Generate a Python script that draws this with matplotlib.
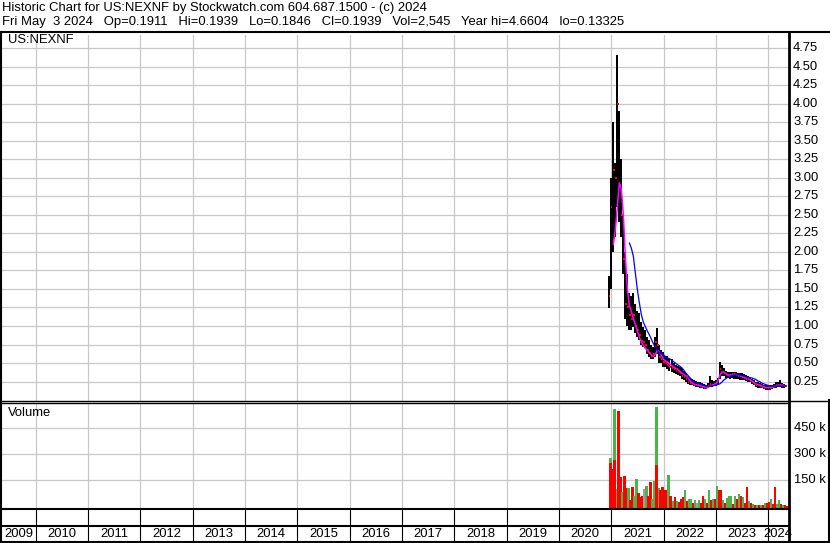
import matplotlib
matplotlib.use("Agg")
import matplotlib.pyplot as plt
from matplotlib.lines import Line2D
from matplotlib.transforms import blended_transform_factory
import numpy as np
import pandas as pd

plt.rcParams['font.family'] = ['Liberation Sans', 'DejaVu Sans']

# bi-weekly bars, Dec 2020 .. May 3 2024
dates = pd.date_range('2020-12-18', '2024-05-03', freq='14D')

high = [1.67, 3.00, 3.75, 3.20, 4.66, 3.90, 3.25, 2.50, 2.00, 1.70,
        1.45, 1.40, 1.45, 1.30, 1.20, 1.17, 1.05, 0.99, 0.95, 0.85,
        0.81, 0.75, 0.72, 0.85, 0.97, 0.75, 0.68, 0.65, 0.60, 0.59,
        0.56, 0.55, 0.50, 0.48, 0.46, 0.45, 0.43, 0.40, 0.36, 0.32,
        0.30, 0.28, 0.27, 0.26, 0.25, 0.24, 0.23, 0.22, 0.21, 0.23,
        0.32, 0.27, 0.26, 0.27, 0.30, 0.52, 0.47, 0.43, 0.40, 0.38,
        0.38, 0.38, 0.38, 0.38, 0.37, 0.36, 0.36, 0.35, 0.34, 0.33,
        0.31, 0.29, 0.27, 0.25, 0.24, 0.23, 0.22, 0.21, 0.20, 0.20,
        0.20, 0.21, 0.22, 0.24, 0.25, 0.27, 0.23, 0.22, 0.21]
low = [1.24, 1.50, 2.00, 2.20, 2.60, 2.40, 2.20, 1.70, 1.10, 1.00,
       0.95, 0.95, 0.99, 0.90, 0.85, 0.81, 0.75, 0.72, 0.70, 0.62,
       0.58, 0.55, 0.55, 0.58, 0.62, 0.50, 0.50, 0.45, 0.45, 0.42,
       0.40, 0.38, 0.36, 0.35, 0.34, 0.32, 0.29, 0.27, 0.25, 0.22,
       0.20, 0.20, 0.19, 0.18, 0.18, 0.17, 0.16, 0.15, 0.15, 0.16,
       0.18, 0.18, 0.19, 0.19, 0.20, 0.28, 0.33, 0.32, 0.30, 0.30,
       0.29, 0.30, 0.29, 0.28, 0.28, 0.27, 0.27, 0.27, 0.26, 0.25,
       0.24, 0.22, 0.20, 0.18, 0.17, 0.17, 0.16, 0.15, 0.14, 0.14,
       0.14, 0.15, 0.16, 0.17, 0.18, 0.18, 0.17, 0.17, 0.18]
close = [1.40, 2.60, 3.10, 3.00, 4.00, 2.90, 2.50, 1.90, 1.30, 1.25,
         1.15, 1.10, 1.15, 1.00, 0.95, 0.88, 0.80, 0.78, 0.74, 0.68,
         0.63, 0.60, 0.62, 0.78, 0.75, 0.58, 0.55, 0.52, 0.50, 0.48,
         0.45, 0.44, 0.42, 0.40, 0.38, 0.36, 0.33, 0.31, 0.28, 0.25,
         0.23, 0.22, 0.21, 0.21, 0.20, 0.19, 0.18, 0.17, 0.17, 0.19,
         0.22, 0.21, 0.22, 0.23, 0.28, 0.42, 0.38, 0.36, 0.34, 0.33,
         0.34, 0.35, 0.35, 0.34, 0.33, 0.32, 0.31, 0.30, 0.29, 0.28,
         0.26, 0.24, 0.22, 0.21, 0.20, 0.19, 0.18, 0.17, 0.16, 0.16,
         0.17, 0.18, 0.19, 0.20, 0.21, 0.21, 0.20, 0.19, 0.19]
ma_short = [np.nan, np.nan, 2.10, 2.30, 2.60, 2.93, 2.85, 2.50, 1.94, 1.50,
            1.28, 1.20, 1.10, 1.02, 0.93, 0.85, 0.78, 0.74, 0.70, 0.67,
            0.64, 0.61, 0.59, 0.62, 0.68, 0.65, 0.60, 0.55, 0.53, 0.51,
            0.49, 0.47, 0.45, 0.43, 0.42, 0.39, 0.37, 0.35, 0.33, 0.31,
            0.27, 0.24, 0.22, 0.21, 0.205, 0.20, 0.19, 0.18, 0.17, 0.17,
            0.19, 0.20, 0.21, 0.22, 0.25, 0.33, 0.38, 0.38, 0.36, 0.34,
            0.34, 0.34, 0.35, 0.35, 0.34, 0.33, 0.32, 0.31, 0.30, 0.29,
            0.28, 0.26, 0.24, 0.22, 0.21, 0.205, 0.19, 0.18, 0.17, 0.17,
            0.17, 0.17, 0.18, 0.19, 0.20, 0.205, 0.20, 0.195, 0.19]
ma_long = [np.nan] * 10 + [
           2.12, 2.05, 1.94, 1.71, 1.49, 1.31, 1.15, 1.05, 0.99, 0.93,
           0.88, 0.82, 0.76, 0.72, 0.68, 0.64, 0.63, 0.61, 0.59, 0.57,
           0.56, 0.54, 0.52, 0.50, 0.48, 0.46, 0.44, 0.41, 0.37, 0.34,
           0.31, 0.28, 0.26, 0.24, 0.23, 0.22, 0.21, 0.205, 0.20, 0.19,
           0.19, 0.19, 0.195, 0.205, 0.21, 0.22, 0.24, 0.27, 0.29, 0.31,
           0.32, 0.33, 0.34, 0.34, 0.34, 0.34, 0.33, 0.33, 0.32, 0.31,
           0.30, 0.30, 0.29, 0.28, 0.26, 0.25, 0.23, 0.22, 0.21, 0.20,
           0.195, 0.19, 0.19, 0.19, 0.19, 0.19, 0.19, 0.19, 0.195]

# volume in thousands, g = up, r = down, n = unchanged
volume = [280, 212, 562, 100, 550, 170, 80, 175, 104, 104,
          35, 110, 60, 156, 75, 54, 60, 96, 115, 60,
          141, 40, 146, 575, 104, 90, 108, 94, 94, 180,
          58, 30, 50, 30, 25, 40, 50, 90, 30, 40,
          40, 20, 35, 20, 35, 15, 60, 40, 15, 95,
          35, 40, 40, 113, 94, 94, 35, 15, 45, 56,
          55, 10, 60, 40, 70, 60, 50, 15, 108, 30,
          20, 10, 5, 5, 3, 3, 5, 15, 20, 25,
          40, 10, 108, 10, 35, 10, 3, 3, 2]
vol_dir = list('grggrrgrrg'
               'rrggrrrngr'
               'rggggrrrrg'
               'rgrgrrrgrg'
               'grgngrrgrg'
               'rgrgrrgrgg'
               'grgrgrgrrg'
               'rgrgrgrgrr'
               'grrggrgrr')
# down-volume drawn underneath some of the up bars
under_idx = [0, 2, 23]
under_vol = [250, 266, 237]

year_labels = list(range(2009, 2025))
price_ticks = [0.25, 0.5, 0.75, 1.0, 1.25, 1.5, 1.75, 2.0, 2.25, 2.5,
               2.75, 3.0, 3.25, 3.5, 3.75, 4.0, 4.25, 4.5, 4.75]
vol_ticks = [150, 300, 450]

header1 = 'Historic Chart for US:NEXNF by Stockwatch.com 604.687.1500 - (c) 2024'
header2 = ('Fri May  3 2024   Op=0.1911   Hi=0.1939   Lo=0.1846   Cl=0.1939   '
           'Vol=2,545   Year hi=4.6604   lo=0.13325')

W, H = 830, 543
fig = plt.figure(figsize=(W / 100, H / 100), dpi=100)
fig.patch.set_facecolor('white')


def fx(px):
    return px / W


def fy(py):
    return 1 - py / H


def dec_year(d):
    start = pd.Timestamp(d.year, 1, 1)
    length = (pd.Timestamp(d.year + 1, 1, 1) - start).days
    return d.year + (d - start).days / length


x = np.array([dec_year(d) for d in dates])
XL = (2009.356, 2024.377)
GRID = '#c8c8c8'
GREEN = '#4cb34c'
bar_w = 14 / 365.0
FS = 9.4

# price panel
ax = fig.add_axes([fx(2), fy(401), fx(788) - fx(2), fy(35) - fy(401)])
ax.set_xlim(*XL)
ax.set_ylim(-0.011, 4.925)
ax.set_xticks(range(2010, 2025))
ax.set_yticks(price_ticks)
ax.grid(True, color=GRID, lw=0.9)
ax.tick_params(length=0, labelbottom=False, labelleft=False)
for s in ax.spines.values():
    s.set_visible(False)
ax.vlines(x, low, high, color='black', lw=1.2, antialiased=False)
ax.hlines(close, x, x + bar_w * 0.6, color='red', lw=1.4, antialiased=False)
ax.plot(x, ma_short, color='#ff00ff', lw=1.1)
ax.plot(x, ma_long, color='#0000ff', lw=0.9)
ax.text(fx(8), fy(40), 'US:NEXNF', transform=fig.transFigure, fontsize=FS,
        va='center', ha='left')
tr = blended_transform_factory(fig.transFigure, ax.transData)
for t in price_ticks:
    ax.text(fx(793), t, f'{t:.2f}', transform=tr, fontsize=FS, va='center',
            ha='left', clip_on=False)

# volume panel
av = fig.add_axes([fx(2), fy(509), fx(788) - fx(2), fy(403) - fy(509)])
av.set_xlim(*XL)
v0 = -17.4
av.set_ylim(v0, 596.5)
av.set_xticks(range(2010, 2025))
av.set_yticks(vol_ticks)
av.grid(True, color=GRID, lw=0.9)
av.set_axisbelow(True)
av.tick_params(length=0, labelbottom=False, labelleft=False)
for s in av.spines.values():
    s.set_visible(False)
cmap = {'g': GREEN, 'r': '#ff0000', 'n': '#a0a0a0'}
av.bar(x, np.array(volume) - v0, bottom=v0, width=bar_w * 1.15, align='edge',
       color=[cmap[c] for c in vol_dir], lw=0, antialiased=False)
av.bar(x[under_idx], np.array(under_vol) - v0, bottom=v0, width=bar_w * 1.15,
       align='edge', color='#ff0000', lw=0, antialiased=False)
av.text(fx(8), fy(413), 'Volume', transform=fig.transFigure, fontsize=FS,
        va='center', ha='left')
trv = blended_transform_factory(fig.transFigure, av.transData)
for t in vol_ticks:
    av.text(fx(794), t, f'{t} k', transform=trv, fontsize=FS, va='center',
            ha='left', clip_on=False)

# year strip
ay = fig.add_axes([fx(2), fy(541), fx(788) - fx(2), fy(509) - fy(541)])
ay.set_xlim(*XL)
ay.set_ylim(0, 1)
ay.axis('off')
ay.vlines(range(2010, 2025), 0, 1, color='black', lw=0.8)
for yr in year_labels:
    a = max(yr, XL[0])
    b = min(yr + 1, XL[1])
    ay.text((a + b) / 2, 0.22, str(yr), fontsize=FS, ha='center', va='center')


def hline(py, x0, x1, lw):
    fig.add_artist(Line2D([fx(x0), fx(x1)], [fy(py), fy(py)], color='black',
                          lw=lw, transform=fig.transFigure))


def vline(px, y0, y1, lw):
    fig.add_artist(Line2D([fx(px), fx(px)], [fy(y0), fy(y1)], color='black',
                          lw=lw, transform=fig.transFigure))


hline(32, 0, 830, 1.5)
hline(400.5, 0, 830, 1.0)
hline(402.5, 0, 788, 1.0)
hline(509, 0, 788, 1.5)
hline(526, 0, 788, 1.5)
hline(541.5, 0, 830, 1.5)
vline(1, 32, 543, 1.5)
vline(788.5, 32, 543, 2.0)
vline(829, 400, 543, 1.5)

# header
fig.text(fx(2), fy(2), header1, fontsize=FS, va='top', ha='left')
fig.text(fx(2), fy(16), header2, fontsize=FS, va='top', ha='left')

fig.savefig('out.png', dpi=100)
